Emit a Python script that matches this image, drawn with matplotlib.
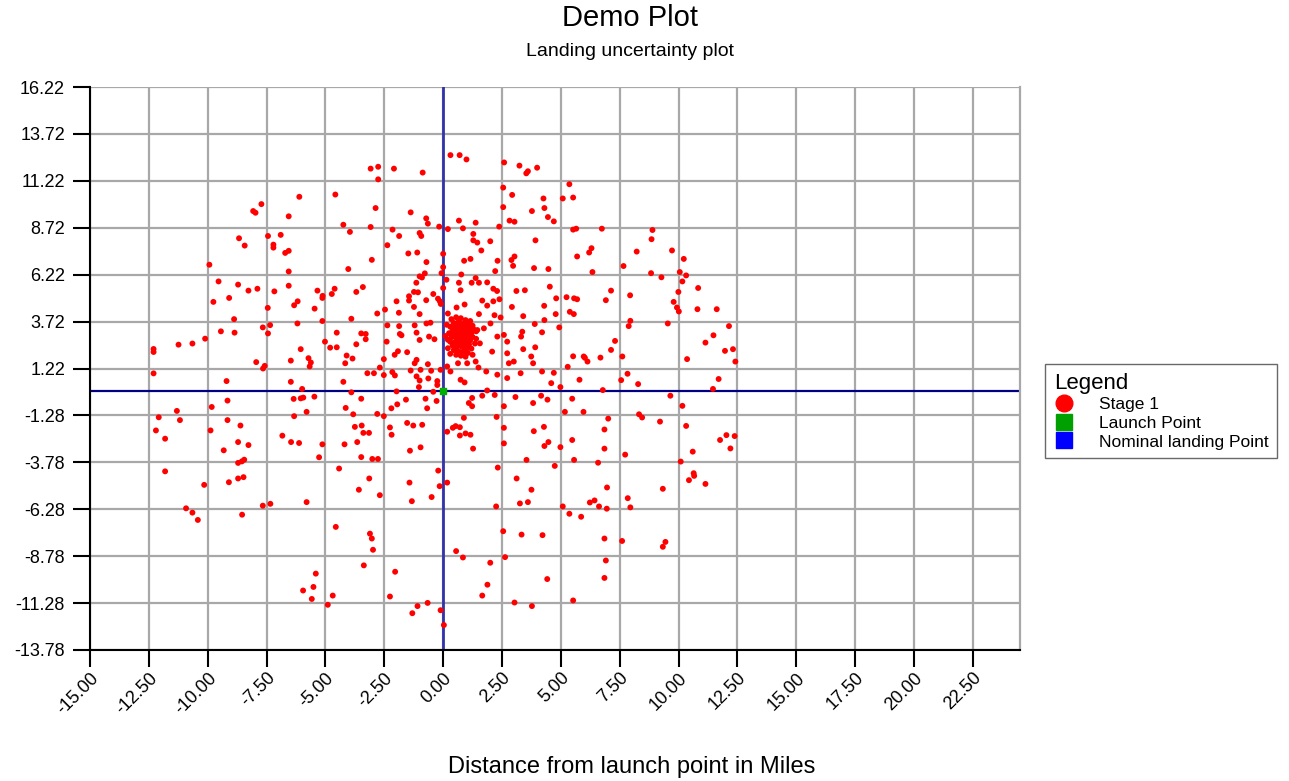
import matplotlib
matplotlib.use("Agg")
import matplotlib.pyplot as plt
from matplotlib.lines import Line2D

plt.rcParams['font.family'] = ['Liberation Sans', 'DejaVu Sans']

# Stage 1 landing points (miles)
upper_left = [(-6.11, 10.37), (-4.58, 10.49), (-7.72, 9.98), (-8.07, 9.61), (-7.97, 9.52), (-6.56, 9.33),
              (-8.67, 8.16), (-7.44, 8.28), (-6.90, 8.34), (-8.43, 7.77), (-7.21, 7.82), (-7.21, 7.66),
              (-6.71, 7.38), (-6.56, 7.49), (-9.93, 6.75), (-6.56, 6.39), (-9.54, 5.86), (-8.71, 5.69),
              (-8.27, 5.37), (-7.89, 5.47), (-7.17, 5.33), (-6.56, 5.63), (-5.34, 5.37), (-5.12, 5.09),
              (-5.13, 4.98), (-4.73, 5.19), (-4.61, 5.47), (-9.76, 4.77), (-9.09, 4.98), (-6.18, 4.80),
              (-6.33, 4.59), (-5.46, 4.41), (-7.45, 4.45)]

upper_mid = [(0.31, 12.59), (0.70, 12.59), (0.99, 12.36), (2.59, 12.20), (3.24, 12.03), (3.60, 11.73),
             (3.53, 11.62), (3.99, 11.92), (-3.08, 11.87), (-2.76, 11.97), (-2.09, 11.87), (-2.76, 11.30),
             (-0.87, 11.66), (2.55, 10.86), (2.93, 10.47), (2.55, 9.82), (3.77, 9.61), (-2.87, 9.77),
             (-1.38, 9.54), (-0.72, 9.22), (-0.65, 8.94), (-4.24, 8.88), (-3.08, 8.76), (-3.96, 8.50),
             (-2.15, 8.62), (-1.87, 8.28), (-1.00, 8.44), (-0.93, 8.28), (-0.17, 8.78), (0.20, 8.65),
             (0.67, 9.10), (0.84, 8.69), (1.38, 8.99), (2.38, 8.78), (2.82, 9.10), (3.03, 9.04),
             (1.28, 8.39), (1.28, 8.05), (1.45, 7.93), (2.00, 8.00), (3.92, 8.05), (-2.37, 7.79),
             (-1.48, 7.35), (-1.10, 7.40), (0.00, 7.33), (1.62, 7.51), (-3.03, 7.01), (-0.71, 6.89),
             (0.89, 6.96), (1.16, 7.06), (2.31, 6.96), (2.90, 7.00), (3.03, 7.19), (2.97, 6.69),
             (-4.03, 6.52), (0.00, 6.62), (2.21, 6.41), (3.86, 6.57), (-0.78, 6.29), (-1.00, 6.13),
             (-0.90, 6.07), (-0.07, 6.30), (0.14, 5.95), (0.77, 6.23), (1.38, 6.04), (-1.14, 5.79),
             (0.67, 5.79), (1.21, 5.79), (1.52, 5.79), (1.87, 5.81), (2.13, 5.47), (-3.69, 5.30),
             (-3.41, 5.56), (0.00, 5.51), (0.74, 5.39), (-1.24, 5.30), (-1.07, 5.28), (-0.42, 5.19),
             (2.29, 5.35), (3.11, 5.35), (3.47, 5.39), (-1.45, 5.07), (-1.98, 4.80), (-1.45, 4.84),
             (-0.72, 4.86), (-0.22, 4.94), (-0.14, 4.80), (-0.10, 4.66), (0.57, 4.47), (0.91, 4.63),
             (1.66, 4.84), (1.87, 4.57), (2.13, 4.80), (2.39, 4.91), (2.92, 4.50), (-1.24, 4.50),
             (-2.47, 4.36)]

upper_right = [(5.36, 11.04), (4.26, 10.28), (5.08, 10.28), (5.52, 10.33), (4.30, 9.77), (4.45, 9.29),
               (4.70, 9.06), (5.52, 8.62), (5.65, 8.67), (6.74, 8.67), (8.89, 8.60), (8.85, 8.11),
               (6.30, 7.63), (6.20, 7.40), (5.69, 7.19), (8.22, 7.45), (9.72, 7.51), (10.22, 7.06),
               (7.66, 6.68), (4.47, 6.52), (6.34, 6.36), (8.83, 6.30), (9.27, 6.08), (10.05, 6.36),
               (10.32, 6.18), (10.16, 5.86), (10.83, 5.51), (9.99, 5.30), (4.53, 5.58), (7.13, 5.37),
               (4.80, 4.96), (5.24, 5.02), (5.56, 4.96), (5.69, 4.91), (6.91, 4.86), (7.94, 5.12),
               (9.79, 4.77), (9.93, 4.47), (10.80, 4.38), (11.62, 4.38), (4.29, 4.56)]

middle_left = [(-8.88, 3.85), (-7.66, 3.41), (-7.35, 3.53), (-7.44, 3.09), (-6.19, 3.62), (-5.13, 3.75),
               (-9.44, 3.20), (-8.86, 3.13), (-4.52, 3.13), (-10.11, 2.81), (-10.65, 2.55), (-11.24, 2.49),
               (-12.30, 2.26), (-12.30, 2.10), (-5.02, 2.65), (-4.80, 2.33), (-4.52, 2.35), (-6.05, 2.25),
               (-5.72, 1.77), (-5.62, 1.54), (-5.67, 1.33), (-6.47, 1.64), (-7.94, 1.56), (-7.58, 1.36),
               (-7.65, 1.22), (-12.30, 0.96), (-9.20, 0.55), (-6.47, 0.51), (-5.99, 0.13),
               (-9.16, -0.49), (-6.35, -0.40), (-6.05, -0.37), (-5.94, -0.33), (-5.47, -0.28), (-9.83, -0.83),
               (-11.31, -1.04), (-12.08, -1.38), (-11.18, -1.53), (-9.16, -1.53), (-8.61, -1.82), (-6.33, -1.32),
               (-5.80, -1.09), (-12.20, -2.08), (-9.88, -2.08), (-11.81, -2.52), (-6.83, -2.36), (-6.46, -2.70),
               (-6.12, -2.75), (-8.71, -2.70), (-8.27, -2.86), (-5.13, -2.82), (-9.32, -3.14), (-8.45, -3.64),
               (-8.55, -3.73), (-8.71, -3.81), (-5.27, -3.51), (-11.81, -4.26), (-4.42, -4.11)]

middle = [(-2.80, 4.15), (-1.88, 4.19), (-1.00, 4.12), (-3.90, 3.87), (-2.37, 3.52), (-1.87, 3.48),
          (-1.21, 3.52), (-0.71, 3.62), (-0.54, 3.66), (-3.48, 3.09), (-3.29, 3.06), (-3.29, 2.78),
          (-3.69, 2.51), (-1.84, 3.06), (-1.77, 2.99), (-1.13, 3.13), (-1.00, 2.74), (-0.60, 2.92),
          (-0.37, 2.78), (-2.40, 2.65), (-1.92, 2.14), (-1.53, 2.09), (-2.06, 1.95), (-2.52, 1.72),
          (-1.21, 1.50), (-1.13, 1.68), (-0.65, 1.45), (-4.10, 1.91), (-3.85, 1.75), (-4.16, 1.50),
          (-3.22, 0.97), (-2.94, 0.97), (-2.69, 1.27), (-2.52, 0.87), (-2.16, 1.03), (-2.05, 0.85),
          (-1.38, 1.11), (-0.96, 1.15), (-0.51, 1.10), (-0.11, 1.15), (-1.13, 0.80), (-1.00, 0.58),
          (-0.63, 0.69), (-0.25, 0.55), (-4.24, 0.51), (-3.90, -0.05), (-1.98, 0.00), (-1.03, 0.23),
          (-0.25, 0.34), (-0.42, -0.02), (-3.48, -0.39), (-4.14, -0.88), (-0.75, -0.39), (-1.58, -0.44),
          (-0.28, -0.51), (-0.68, -0.90), (-1.95, -0.69), (-2.20, -0.90), (-3.82, -1.22), (-2.80, -1.20),
          (-2.52, -1.32), (-1.53, -1.68), (-1.27, -1.82), (-0.89, -1.78), (-3.75, -1.89), (-3.46, -1.82),
          (-2.26, -1.92), (-3.39, -2.21), (-3.15, -2.21), (-2.19, -2.31), (-3.65, -2.70), (-4.19, -2.82),
          (-0.96, -2.98), (-1.41, -3.16), (-3.48, -3.50), (-3.01, -3.60), (-2.77, -3.60), (-0.21, -4.22),
          (0.20, 4.15), (1.52, 4.12), (2.18, 4.06), (2.44, 3.94), (2.01, 3.62), (3.40, 4.01),
          (3.89, 3.59), (1.45, 3.27), (1.73, 3.36), (2.30, 2.92), (2.58, 3.01), (2.72, 2.65),
          (3.36, 3.18), (3.31, 2.92), (3.40, 2.25), (3.91, 2.35), (1.56, 2.56), (2.08, 2.12),
          (2.72, 2.03), (1.38, 1.59), (1.02, 1.50), (1.50, 1.27), (1.83, 1.06), (2.30, 0.89),
          (2.79, 1.50), (3.00, 1.59), (2.72, 0.71), (3.82, 1.50), (3.74, 1.86), (3.29, 0.97),
          (0.74, 0.62), (0.91, 0.48), (0.31, 1.06), (0.63, 1.50), (0.17, 1.33), (1.87, 0.05),
          (2.19, -0.19), (1.23, -0.35), (1.09, -0.62), (1.23, -0.79), (1.66, -0.23), (2.58, -0.79),
          (3.07, -0.30), (3.82, -0.62), (2.27, -1.36), (0.88, -1.41), (0.53, -1.85), (0.71, -1.91),
          (0.41, -1.94), (0.17, -2.15), (0.95, -2.24), (0.71, -2.35), (1.16, -2.31), (2.58, -1.94),
          (3.85, -2.12), (2.58, -2.77), (1.27, -3.05), (3.54, -3.65), (2.32, -4.06)]

core = [(0.35, 3.85), (0.55, 3.95), (0.75, 3.90), (0.95, 3.80), (1.15, 3.75), (0.45, 3.65), (0.65, 3.70),
        (0.85, 3.62), (1.05, 3.58), (1.25, 3.50), (0.30, 3.45), (0.50, 3.48), (0.70, 3.42), (0.90, 3.40),
        (1.10, 3.35), (1.30, 3.30), (0.40, 3.25), (0.60, 3.28), (0.80, 3.22), (1.00, 3.18), (1.20, 3.12),
        (0.25, 3.10), (0.45, 3.05), (0.65, 3.02), (0.85, 3.00), (1.05, 2.95), (1.25, 2.90), (0.35, 2.88),
        (0.55, 2.85), (0.75, 2.80), (0.95, 2.78), (1.15, 2.72), (0.30, 2.65), (0.50, 2.62), (0.70, 2.60),
        (0.90, 2.55), (1.10, 2.50), (1.35, 2.55), (0.40, 2.45), (0.60, 2.40), (0.80, 2.38), (1.00, 2.32),
        (1.20, 2.28), (0.20, 2.30), (0.45, 2.20), (0.65, 2.15), (0.85, 2.10), (1.05, 2.05), (0.30, 2.00),
        (0.55, 1.95), (0.75, 1.90), (0.95, 1.85), (1.25, 1.95), (0.15, 3.55), (0.20, 2.75), (0.60, 3.55),
        (0.80, 3.50), (1.00, 3.45), (0.50, 3.15), (0.70, 3.10), (0.90, 3.08), (0.60, 2.70), (0.80, 2.68),
        (1.00, 2.65), (0.70, 2.50), (0.50, 2.30), (0.90, 2.25), (1.40, 2.80), (1.40, 3.20), (0.10, 2.95)]

middle_right = [(4.30, 3.80), (4.78, 4.12), (5.38, 4.24), (5.55, 4.12), (10.01, 4.26), (4.93, 3.41),
                (4.20, 3.15), (7.95, 3.76), (7.88, 3.48), (9.54, 3.62), (12.14, 3.48), (11.48, 2.99),
                (11.14, 2.60), (7.30, 2.69), (7.13, 2.21), (11.97, 2.16), (12.31, 2.25), (12.41, 1.59),
                (5.52, 1.87), (5.97, 1.86), (6.02, 1.79), (6.13, 1.59), (6.68, 1.80), (7.61, 1.86),
                (10.36, 1.72), (5.29, 1.31), (4.20, 1.06), (4.70, 0.99), (7.83, 0.94), (4.59, 0.44),
                (4.98, 0.23), (5.79, 0.62), (7.56, 0.60), (8.28, 0.39), (11.70, 0.66), (11.46, 0.13),
                (6.78, 0.07), (4.16, -0.23), (4.43, -0.44), (5.48, -0.39), (9.65, -0.23), (10.16, -0.77),
                (5.17, -1.09), (5.96, -1.09), (8.32, -1.22), (8.45, -1.39), (7.01, -1.45), (9.21, -1.61),
                (10.32, -1.84), (4.28, -1.89), (6.85, -2.03), (12.03, -2.33), (12.38, -2.38), (11.76, -2.59),
                (4.47, -2.70), (4.30, -2.91), (5.48, -2.59), (4.98, -2.97), (6.85, -3.05), (12.20, -3.04),
                (7.73, -3.37), (10.60, -3.21), (5.56, -3.65), (6.58, -3.80), (10.09, -3.74), (4.74, -3.97),
                (10.64, -4.36)]

lower_left = [(-8.48, -4.57), (-8.71, -4.64), (-9.10, -4.84), (-10.15, -4.98), (-10.92, -6.23),
              (-10.65, -6.46), (-10.42, -6.85), (-7.66, -6.09), (-7.34, -5.99), (-5.80, -5.90),
              (-8.54, -6.57), (-4.56, -7.22), (-5.41, -9.71), (-5.51, -10.42), (-5.95, -10.61),
              (-5.58, -11.06), (-4.69, -10.88), (-4.90, -11.37)]

lower_mid = [(-3.14, -4.64), (-1.43, -4.86), (-3.58, -5.24), (-2.69, -5.53), (-1.33, -5.85), (-0.49, -5.63),
             (-0.15, -5.05), (0.17, -4.86), (3.12, -4.64), (3.75, -5.24), (3.26, -5.97), (3.60, -5.90),
             (2.25, -6.13), (-3.11, -7.58), (-3.03, -7.84), (-2.98, -8.44), (-3.37, -9.27), (-2.04, -9.61),
             (2.55, -7.45), (3.33, -7.63), (0.55, -8.51), (0.84, -8.85), (2.00, -9.13), (2.63, -8.83),
             (1.88, -10.30), (1.66, -10.88), (-2.26, -10.93), (-0.66, -11.27), (-1.09, -11.44),
             (-1.31, -11.82), (-0.11, -11.66), (0.03, -12.45), (3.03, -11.25), (3.77, -11.44)]

lower_right = [(10.44, -4.73), (10.66, -4.50), (11.14, -4.93), (9.33, -5.19), (6.96, -5.12), (7.84, -5.69),
               (6.23, -5.92), (6.43, -5.81), (6.62, -6.13), (6.95, -6.25), (7.95, -6.18), (5.08, -6.13),
               (5.36, -6.52), (5.86, -6.68), (4.22, -7.66), (6.85, -7.84), (7.60, -7.97), (9.44, -8.02),
               (9.33, -8.28), (6.91, -9.01), (4.42, -10.00), (6.85, -9.94), (5.52, -11.14)]

launch_point = (0.0, 0.0)
nominal_landing = (0.0, 0.0)

x_ticks = [-15.0 + 2.5 * i for i in range(16)]
y_ticks = [16.22 - 2.5 * i for i in range(13)]

stage1 = upper_left + upper_mid + upper_right + middle_left + middle + core + middle_right + lower_left + lower_mid + lower_right
stage1_x = [p[0] for p in stage1]
stage1_y = [p[1] for p in stage1]

fig = plt.figure(figsize=(12.89, 7.81), dpi=100)
ax = fig.add_axes([90 / 1289, 1 - 650 / 781, (1020 - 90) / 1289, (650 - 87) / 781])

ax.set_xlim(-15, 24.5)
ax.set_ylim(-13.78, 16.22)
ax.set_xticks(x_ticks)
ax.set_yticks(y_ticks)
ax.set_xticklabels(['%.2f' % v for v in x_ticks], rotation=45, ha='right', va='top',
                   rotation_mode='anchor', fontsize=13)
ax.set_yticklabels(['%.2f' % v for v in y_ticks], fontsize=13)
ax.tick_params(direction='out', length=12, width=1.5, color='black')
ax.tick_params(axis='y', pad=6)
ax.tick_params(axis='x', pad=2)
ax.grid(True, color='#a8a8a8', linewidth=1.6)
ax.set_axisbelow(True)

ax.spines['top'].set_visible(False)
ax.spines['right'].set_color('#a8a8a8')
ax.spines['right'].set_linewidth(1.6)
ax.spines['left'].set_linewidth(1.5)
ax.spines['bottom'].set_linewidth(1.5)

# nominal landing crosshair
ax.axvline(nominal_landing[0], color='#3333aa', linewidth=2, zorder=2)
ax.axhline(nominal_landing[1], color='#000080', linewidth=1.6, zorder=2)

ax.scatter(stage1_x, stage1_y, s=18, color='#ff0000', edgecolors='none', zorder=3)
ax.scatter([launch_point[0]], [launch_point[1]], s=22, marker='s', color='#00b000', zorder=4)

fig.text(630 / 1289, 1 - 18 / 781, 'Demo Plot', ha='center', va='center', fontsize=21)
fig.text(630 / 1289, 1 - 51 / 781, 'Landing uncertainty plot', ha='center', va='center', fontsize=14)
fig.text(632 / 1289, 1 - 767 / 781, 'Distance from launch point in Miles', ha='center', va='center', fontsize=17)

handles = [
    Line2D([], [], marker='o', linestyle='none', markersize=12, color='#ff0000', label='Stage 1'),
    Line2D([], [], marker='s', linestyle='none', markersize=11, color='#00a000', label='Launch Point'),
    Line2D([], [], marker='s', linestyle='none', markersize=11, color='#0000ff', label='Nominal landing Point'),
]
leg = fig.legend(handles=handles, title='Legend', loc='upper left',
                 bbox_to_anchor=(1045 / 1289, 1 - 364 / 781), borderaxespad=0,
                 fontsize=12.5, title_fontsize=16,
                 frameon=True, fancybox=False, edgecolor='#444444', borderpad=0.5,
                 labelspacing=0.2, handletextpad=1.4, handlelength=1.2)
leg._legend_box.align = 'left'
leg.get_frame().set_linewidth(1.0)

fig.savefig('out.png', dpi=100)
